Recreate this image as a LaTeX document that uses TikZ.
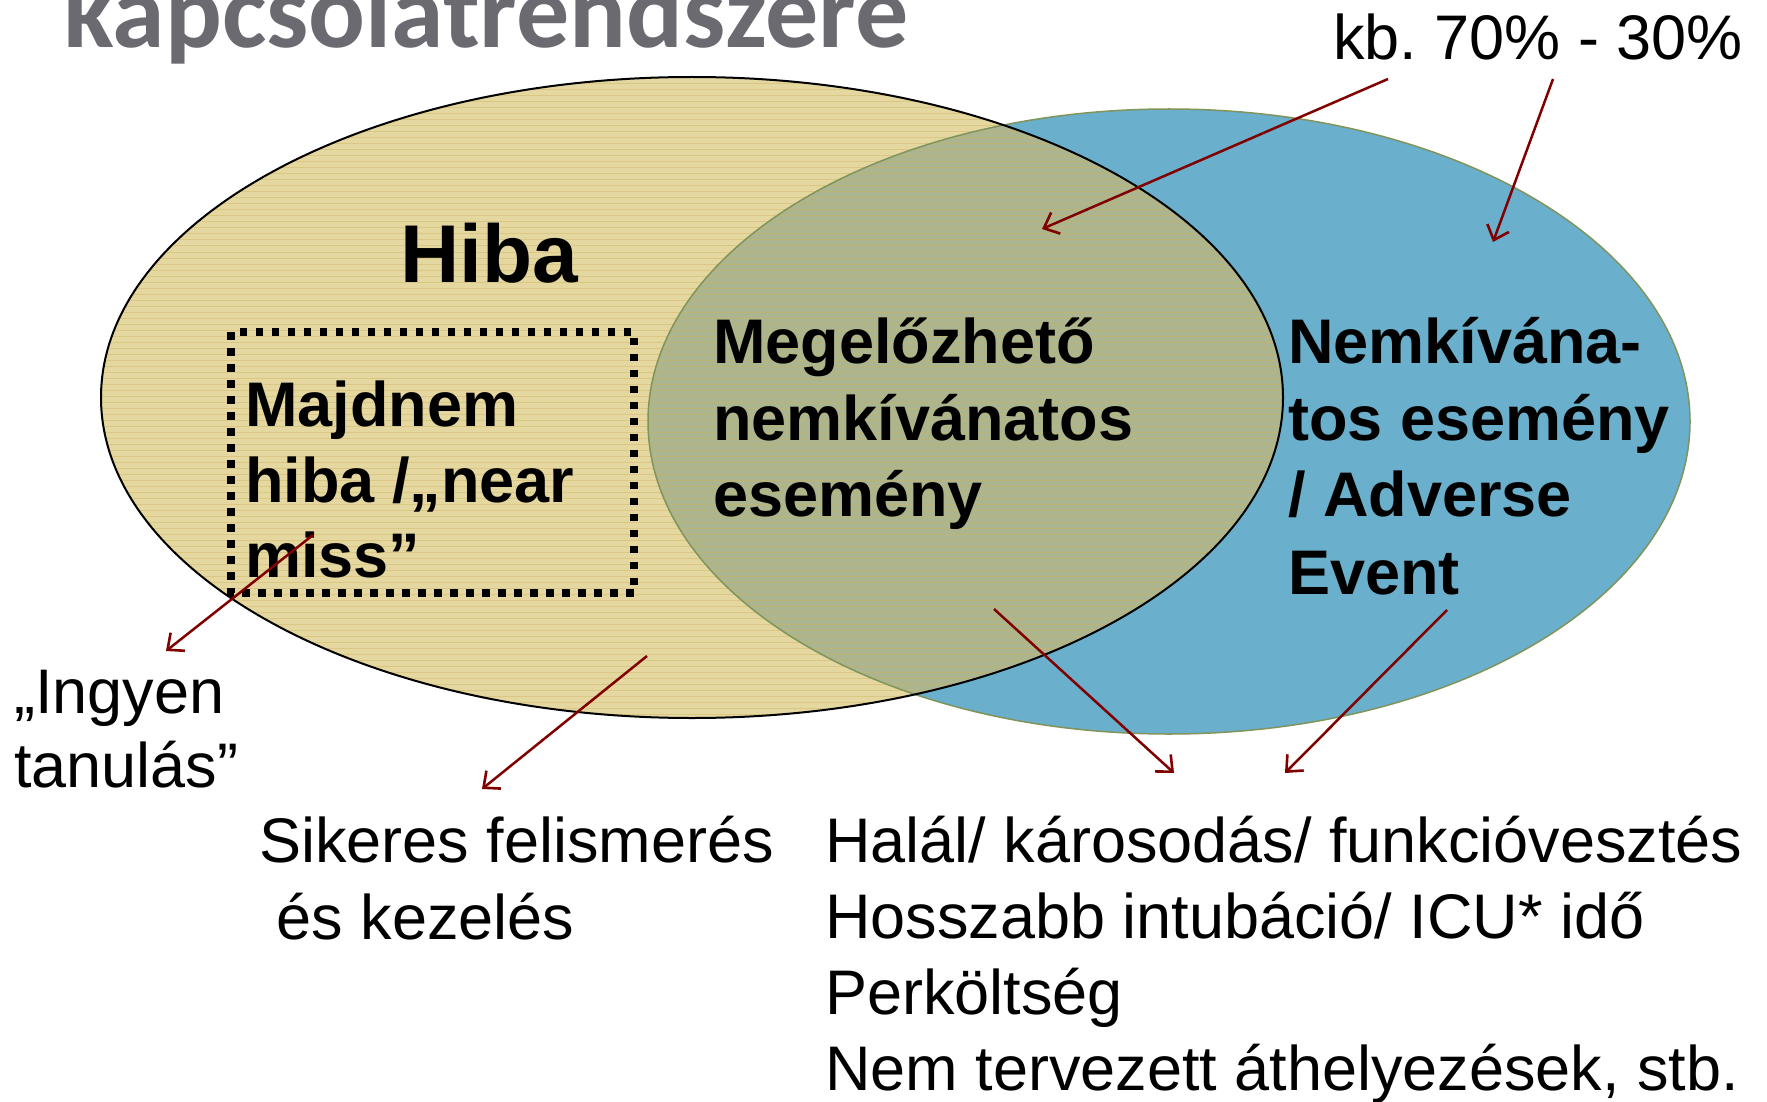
\documentclass[tikz,border=0pt]{standalone}
\usepackage{fontspec}
\setmainfont{Liberation Sans}
\newfontfamily\titlefont{Carlito}
\usetikzlibrary{arrows.meta}
\definecolor{tanfill}{RGB}{229,215,160}
\definecolor{tanline}{RGB}{206,180,96}
\definecolor{overlapfill}{RGB}{172,181,142}
\definecolor{bluefill}{RGB}{106,175,203}
\definecolor{blueedge}{RGB}{128,148,92}
\definecolor{arrowred}{RGB}{128,0,0}
\definecolor{titlegray}{RGB}{107,106,112}
\frenchspacing
\begin{document}
\begin{tikzpicture}[x=1pt,y=-1pt,
  reg/.style={font=\fontsize{63}{75}\selectfont, anchor=base west, inner sep=0pt},
  bld/.style={font=\fontsize{63}{76}\selectfont\bfseries, anchor=base west, inner sep=0pt},
  ptr/.style={draw=arrowred, line width=2.5pt, -{Straight Barb[length=13pt,width=23pt,line width=2.6pt]}}]
\useasboundingbox (0,0) rectangle (1767,1102);
% ellipses
\fill[bluefill] (1169,421.5) ellipse [x radius=521, y radius=312.5];
\fill[tanfill] (692,397.5) ellipse [x radius=591, y radius=320.5];
\begin{scope}
  \clip (1169,421.5) ellipse [x radius=521, y radius=312.5];
  \fill[overlapfill] (692,397.5) ellipse [x radius=591, y radius=320.5];
\end{scope}
\begin{scope}
  \clip (692,397.5) ellipse [x radius=591, y radius=320.5];
  \foreach \k in {0,...,107} \draw[tanline, line width=1pt, opacity=0.45] (100,78+6*\k) -- (1290,78+6*\k);
\end{scope}
\draw[blueedge, line width=1.5pt] (1169,421.5) ellipse [x radius=521, y radius=312.5];
\draw[black, line width=2pt] (692,397.5) ellipse [x radius=591, y radius=320.5];
% dotted box
\draw[black, line width=7.5pt, dash pattern=on 7.5pt off 8.5pt] (231,332) rectangle (634,593);
% title
\node[font=\titlefont\bfseries\fontsize{106}{106}\selectfont, text=titlegray, anchor=base west, inner sep=0pt] (title) at (63,48) {kapcsolatrendszere};
% labels
\node[bld, font=\fontsize{82}{90}\selectfont\bfseries] (hiba) at (400,282) {Hiba};
\node[bld] (maj1) at (245,426) {Majdnem};
\node[bld] (maj2) at (245,502) {hiba /„near};
\node[bld] (maj3) at (245,577) {miss”};
\node[bld] (meg1) at (713,363) {Megelőzhető};
\node[bld] (meg2) at (713,440) {nemkívánatos};
\node[bld] (meg3) at (713,516) {esemény};
\node[bld] (nem1) at (1288,363) {Nemkívána-};
\node[bld] (nem2) at (1288,440) {tos esemény};
\node[bld] (nem3) at (1288,516) {/ Adverse};
\node[bld] (nem4) at (1288,594) {Event};
\node[reg] (kb) at (1333,60) {kb. 70\% - 30\%};
\node[reg] (ing1) at (14,713) {„Ingyen};
\node[reg] (ing2) at (14,787) {tanulás”};
\node[reg] (sik1) at (259,862) {Sikeres felismerés};
\node[reg] (sik2) at (259,939) {\ és kezelés};
\node[reg] (hal1) at (825,862) {Halál/ károsodás/ funkcióvesztés};
\node[reg] (hal2) at (825,938) {Hosszabb intubáció/ ICU* idő};
\node[reg] (hal3) at (825,1014) {Perköltség};
\node[reg] (hal4) at (825,1090) {Nem tervezett áthelyezések, stb.};
% arrow end points
\coordinate (a1s) at (1388,79);  \coordinate (a1e) at (1042,229);
\coordinate (a2s) at (1553,79);  \coordinate (a2e) at (1493,242);
\coordinate (a3s) at (313,535);  \coordinate (a3e) at (166,651);
\coordinate (a4s) at (647,656);  \coordinate (a4e) at (482,789);
\coordinate (a5s) at (994,609);  \coordinate (a5e) at (1174,773);
\coordinate (a6s) at (1447,610); \coordinate (a6e) at (1285,773);
\draw[ptr] (a1s) -- (a1e);
\draw[ptr] (a2s) -- (a2e);
\draw[ptr] (a3s) -- (a3e);
\draw[ptr] (a4s) -- (a4e);
\draw[ptr] (a5s) -- (a5e);
\draw[ptr] (a6s) -- (a6e);
\end{tikzpicture}
\end{document}
